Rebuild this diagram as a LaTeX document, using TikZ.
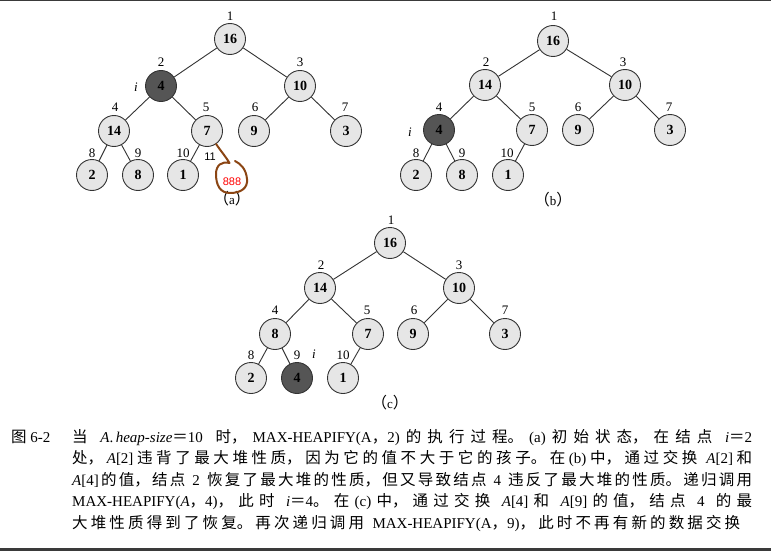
\documentclass[tikz,border=0pt]{standalone}
\usepackage{fontspec}
\setmainfont{Liberation Serif}
\newfontfamily\cjk{Noto Sans CJK SC}
\newfontfamily\sansf{Liberation Sans}
\newcommand\zh[1]{\hskip 0pt plus 4pt{\cjk\fontsize{15.5}{16}\selectfont #1}\hskip 0pt plus 4pt\relax}
\newcommand\zhb[1]{{\cjk\fontsize{15.5}{16}\selectfont #1}\hskip 0pt plus 4pt\relax}
\newcommand\zhl[1]{{\cjk\fontsize{15.5}{16}\selectfont #1}}
\definecolor{bandgray}{HTML}{3A3A3A}
\definecolor{blobbrown}{HTML}{8B4513}
\definecolor{nodefill}{HTML}{E6E6E6}
\definecolor{darkfill}{HTML}{555555}
\newcommand\capline[2]{\parbox[b]{#1}{\noindent\parfillskip=0pt\XeTeXlinebreaklocale "zh"\XeTeXlinebreakskip=0pt plus 4pt\relax\fontsize{15}{16}\selectfont #2}}
\begin{document}
\begin{tikzpicture}[x=1pt,y=-1pt,
  hn/.style={circle,draw=black!80,fill=nodefill,line width=0.9pt,minimum size=31pt,inner sep=0pt,font=\fontsize{14}{14}\selectfont\bfseries},
  hd/.style={hn,fill=darkfill},
  lbl/.style={inner sep=0pt,font=\fontsize{13}{13}\selectfont},
  ilbl/.style={inner sep=0pt,font=\fontsize{13}{13}\selectfont\itshape},
  ed/.style={draw=black!80,line width=0.9pt},
  capnode/.style={inner sep=0pt,anchor=base west,font=\fontsize{15}{16}\selectfont}]
\useasboundingbox (0,0) rectangle (771,551);
\fill[white] (0,0) rectangle (771,551);
\fill[bandgray] (0,0) rectangle (771,1.5);
\fill[bandgray] (0,548) rectangle (771,551);

% ---------- tree (a)
\node[hn] (a1) at (230,39) {16};
\node[hd] (a2) at (161,86) {4};
\node[hn] (a3) at (300,86) {10};
\node[hn] (a4) at (114,131) {14};
\node[hn] (a5) at (207,131) {7};
\node[hn] (a6) at (254,131) {9};
\node[hn] (a7) at (346,131) {3};
\node[hn] (a8) at (92,175) {2};
\node[hn] (a9) at (138,175) {8};
\node[hn] (a10) at (183,175) {1};
\foreach \p/\c in {a1/a2,a1/a3,a2/a4,a2/a5,a3/a6,a3/a7,a4/a8,a4/a9,a5/a10}
  \draw[ed] (\p) -- (\c);
\node[lbl] (la1) at (230,16) {1};
\node[lbl] (la2) at (161,62) {2};
\node[lbl] (la3) at (300,62) {3};
\node[lbl] (la4) at (115,107) {4};
\node[lbl] (la5) at (206,107) {5};
\node[lbl] (la6) at (255,107) {6};
\node[lbl] (la7) at (345,107) {7};
\node[lbl] (la8) at (92,153) {8};
\node[lbl] (la9) at (138,153) {9};
\node[lbl] (la10) at (183,153) {10};
\node[ilbl] (ia) at (136,87) {i};
\node[lbl] (capa) at (232,199) {\zhl{（}a\zhl{）}};
\node[inner sep=0pt,font=\sansf\fontsize{11}{11}\selectfont] (l11) at (210,157) {11};
\coordinate (bt) at (229.5,163);
\draw[blobbrown,line width=2pt,line cap=round,line join=round]
  (a5.-55) .. controls (220,150) and (226,157) .. (bt)
  .. controls (222,161) and (216,165) .. (216,174)
  .. controls (216,185) and (220,193) .. (230,193)
  .. controls (241,193) and (248,188) .. (247,179)
  .. controls (246,169) and (241,164) .. (235,161);
\node[inner sep=0pt,text=red,font=\sansf\fontsize{11}{11}\selectfont] (t888) at (232,182) {888};

% ---------- tree (b)
\node[hn] (b1) at (553,41) {16};
\node[hn] (b2) at (485,85) {14};
\node[hn] (b3) at (625,85) {10};
\node[hd] (b4) at (439,130) {4};
\node[hn] (b5) at (532,130) {7};
\node[hn] (b6) at (578,130) {9};
\node[hn] (b7) at (670,130) {3};
\node[hn] (b8) at (416,175) {2};
\node[hn] (b9) at (462,175) {8};
\node[hn] (b10) at (508,175) {1};
\foreach \p/\c in {b1/b2,b1/b3,b2/b4,b2/b5,b3/b6,b3/b7,b4/b8,b4/b9,b5/b10}
  \draw[ed] (\p) -- (\c);
\node[lbl] (lb1) at (554,16) {1};
\node[lbl] (lb2) at (486,62) {2};
\node[lbl] (lb3) at (623,62) {3};
\node[lbl] (lb4) at (439,107) {4};
\node[lbl] (lb5) at (532,107) {5};
\node[lbl] (lb6) at (578,107) {6};
\node[lbl] (lb7) at (669,107) {7};
\node[lbl] (lb8) at (416,153) {8};
\node[lbl] (lb9) at (462,153) {9};
\node[lbl] (lb10) at (507,153) {10};
\node[ilbl] (ib) at (410,132) {i};
\node[lbl] (capb) at (553,200) {\zhl{（}b\zhl{）}};

% ---------- tree (c)
\node[hn] (c1) at (390,243) {16};
\node[hn] (c2) at (320,288) {14};
\node[hn] (c3) at (459,288) {10};
\node[hn] (c4) at (275,334) {8};
\node[hn] (c5) at (368,334) {7};
\node[hn] (c6) at (413,334) {9};
\node[hn] (c7) at (505,334) {3};
\node[hn] (c8) at (251,378) {2};
\node[hd] (c9) at (297,378) {4};
\node[hn] (c10) at (343,378) {1};
\foreach \p/\c in {c1/c2,c1/c3,c2/c4,c2/c5,c3/c6,c3/c7,c4/c8,c4/c9,c5/c10}
  \draw[ed] (\p) -- (\c);
\node[lbl] (lc1) at (391,220) {1};
\node[lbl] (lc2) at (321,265) {2};
\node[lbl] (lc3) at (459,265) {3};
\node[lbl] (lc4) at (275,310) {4};
\node[lbl] (lc5) at (367,310) {5};
\node[lbl] (lc6) at (414,310) {6};
\node[lbl] (lc7) at (505,310) {7};
\node[lbl] (lc8) at (251,355) {8};
\node[lbl] (lc9) at (297,355) {9};
\node[lbl] (lc10) at (343,355) {10};
\node[ilbl] (ic) at (314,354) {i};
\node[lbl] (capc) at (390,403) {\zhl{（}c\zhl{）}};

% ---------- caption
\node[capnode] (fig) at (11,442) {\zhl{图} 6-2};
\node[capnode] (cl1) at (72,442) {\capline{680pt}{\zhb{当} \textit{A}.\,\textit{heap-size}\zhl{＝}10 \zh{时，}MAX-HEAPIFY(A\zhl{，}2)\zh{的执行过程。}(a)\zh{初始状态，在结点} \textit{i}\zhl{＝}2}};
\node[capnode] (cl2) at (72,463.5) {\capline{680pt}{\zhb{处，}\textit{A}[2]\zh{违背了最大堆性质，因为它的值不大于它的孩子。在}(b)\zh{中，通过交换} \textit{A}[2]\zh{和}}};
\node[capnode] (cl3) at (72,485) {\capline{680pt}{\textit{A}[4]\zh{的值，结点} 2 \zh{恢复了最大堆的性质，但又导致结点} 4 \zh{违反了最大堆的性质。递归调用}}};
\node[capnode] (cl4) at (72,506.5) {\capline{680pt}{MAX-HEAPIFY(\textit{A}\zhl{，}4)\zhb{，此时} \textit{i}\zhl{＝}4\zhb{。在}(c)\zh{中，通过交换} \textit{A}[4]\zh{和} \textit{A}[9]\zh{的值，结点} 4 \zh{的最}}};
\node[capnode] (cl5) at (72,528) {\capline{668pt}{\zhb{大堆性质得到了恢复。再次递归调用} MAX-HEAPIFY(A\zhl{，}9)\zhb{，此时不再有新的数据交换}}};
\end{tikzpicture}
\end{document}
